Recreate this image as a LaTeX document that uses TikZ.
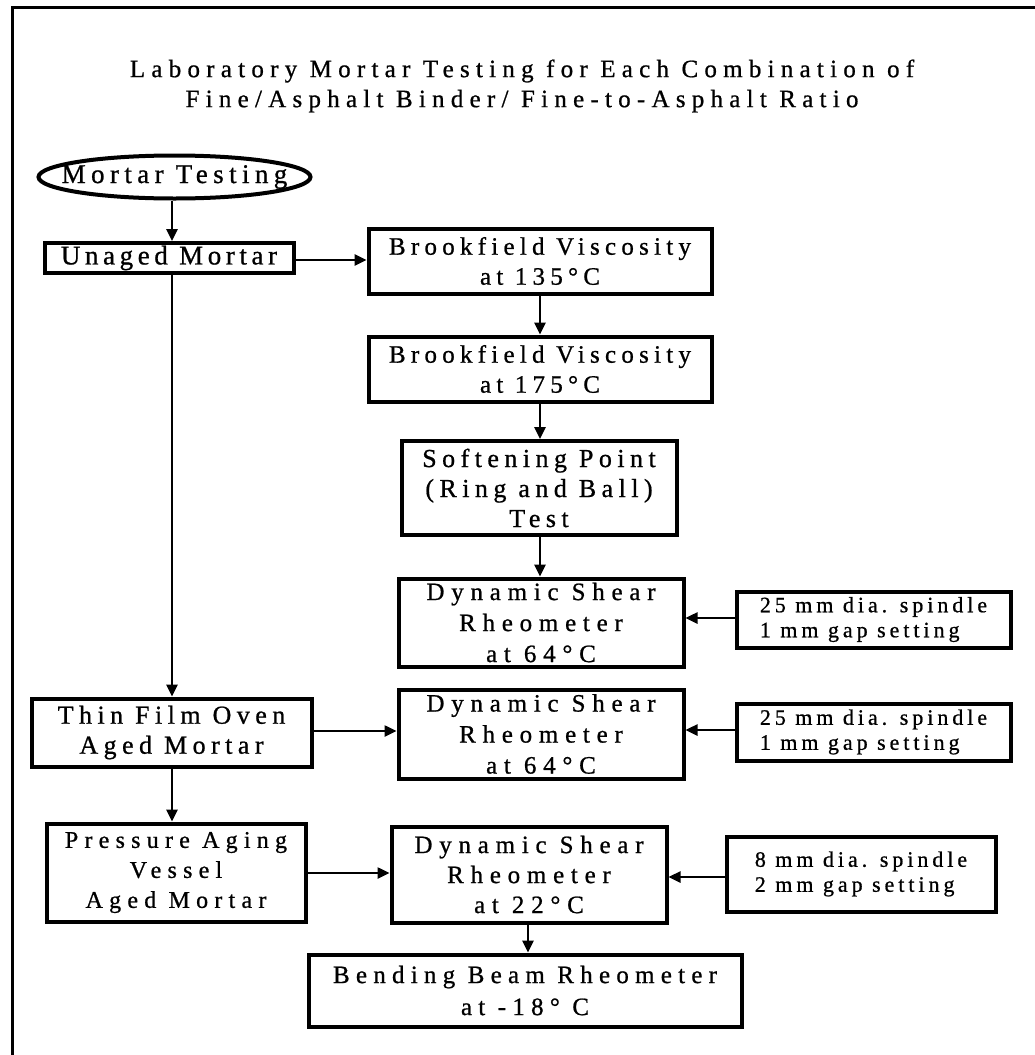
\documentclass[tikz,border=0pt]{standalone}
\usepackage{fontspec}
\setmainfont{Liberation Serif}[FakeBold=0.8]
\usetikzlibrary{arrows.meta,shapes.geometric}
\newcommand{\lsfont}[3]{\fontsize{#1}{#2}\selectfont\addfontfeatures{LetterSpace=#3}}
\begin{document}
\begin{tikzpicture}[x=1pt,y=-1pt,
  box/.style={draw, line width=4pt, inner sep=0pt, align=center},
  arr/.style={line width=2.5pt, -{Triangle[length=12pt,width=11pt]}},
  frame/.style={line width=3pt}]
\useasboundingbox (0,0) rectangle (1035,1055);
\draw[frame] (12,1055) -- (12,7) -- (1035,7);

\node[align=center, font={\lsfont{25}{30}{25}}] (title) at (522,86)
  {Laboratory Mortar Testing for Each Combination of\\Fine/Asphalt Binder/ Fine-to-Asphalt Ratio};

\node[ellipse, draw, line width=4pt, inner sep=0pt, minimum width=272pt, minimum height=43pt,
  label={[font={\lsfont{27}{30}{20}}]center:Mortar Testing}] (mt) at (174.5,177) {};

\node[box, minimum width=249pt, minimum height=30pt, font={\lsfont{27}{28}{17}}] (unaged) at (169,258) {Unaged Mortar};

\node[box, minimum width=343pt, minimum height=65pt, font={\lsfont{25}{30}{21}}] (b1) at (540,261) {Brookfield Viscosity\\at 135°C};
\node[box, minimum width=343pt, minimum height=65pt, font={\lsfont{25}{30}{21}}] (b2) at (540,369) {Brookfield Viscosity\\at 175°C};
\node[box, minimum width=275pt, minimum height=94pt, font={\lsfont{26}{30}{21}}] (sp) at (539,488) {Softening Point\\(Ring and Ball)\\Test};
\node[box, minimum width=285pt, minimum height=88pt, font={\lsfont{25}{31}{27}}] (dsr1) at (541,622.5) {Dynamic Shear\\Rheometer\\at 64°C};
\node[box, minimum width=274pt, minimum height=56pt, align=left, font={\lsfont{22}{25}{18}}] (s1) at (873.5,619.5) {25 mm dia. spindle\\1 mm gap setting};

\node[box, minimum width=280pt, minimum height=68pt, font={\lsfont{26}{30}{21}}] (tfo) at (171.5,732.5) {Thin Film Oven\\Aged Mortar};
\node[box, minimum width=285pt, minimum height=89pt, font={\lsfont{25}{31}{27}}] (dsr2) at (541,734) {Dynamic Shear\\Rheometer\\at 64°C};
\node[box, minimum width=274pt, minimum height=57pt, align=left, font={\lsfont{22}{25}{18}}] (s2) at (873.5,732) {25 mm dia. spindle\\1 mm gap setting};

\node[box, minimum width=259pt, minimum height=98pt, font={\lsfont{24}{30}{26}}] (pav) at (176,872.5) {Pressure Aging\\Vessel\\Aged Mortar};
\node[box, minimum width=275pt, minimum height=96pt, font={\lsfont{25}{30}{27}}] (dsr3) at (529,874.5) {Dynamic Shear\\Rheometer\\at 22°C};
\node[box, minimum width=269pt, minimum height=75pt, align=left, font={\lsfont{22}{25}{18}}] (s3) at (861,874) {8 mm dia. spindle\\2 mm gap setting};
\node[box, minimum width=433pt, minimum height=72pt, font={\lsfont{25}{32}{25}}] (bbr) at (525,990.5) {Bending Beam Rheometer\\at -18° C};

\coordinate (colA) at (172,0);
\coordinate (colB) at (540,0);
\coordinate (colC) at (528,0);
\coordinate (rowA) at (0,260);
\coordinate (rowB) at (0,618);
\coordinate (rowC) at (0,731);
\coordinate (rowD) at (0,730);
\coordinate (rowE) at (0,873);
\coordinate (rowF) at (0,877);

\draw[arr] (mt.south -| colA) -- (unaged.north -| colA);
\draw[arr] (unaged.east |- rowA) -- (b1.west |- rowA);
\draw[arr] (b1.south -| colB) -- (b2.north -| colB);
\draw[arr] (b2.south -| colB) -- (sp.north -| colB);
\draw[arr] (sp.south -| colB) -- (dsr1.north -| colB);
\draw[arr] (s1.west |- rowB) -- (dsr1.east |- rowB);
\draw[arr] (unaged.south -| colA) -- (tfo.north -| colA);
\draw[arr] (tfo.east |- rowC) -- (dsr2.west |- rowC);
\draw[arr] (s2.west |- rowD) -- (dsr2.east |- rowD);
\draw[arr] (tfo.south -| colA) -- (pav.north -| colA);
\draw[arr] (pav.east |- rowE) -- (dsr3.west |- rowE);
\draw[arr] (s3.west |- rowF) -- (dsr3.east |- rowF);
\draw[arr] (dsr3.south -| colC) -- (bbr.north -| colC);
\end{tikzpicture}
\end{document}
